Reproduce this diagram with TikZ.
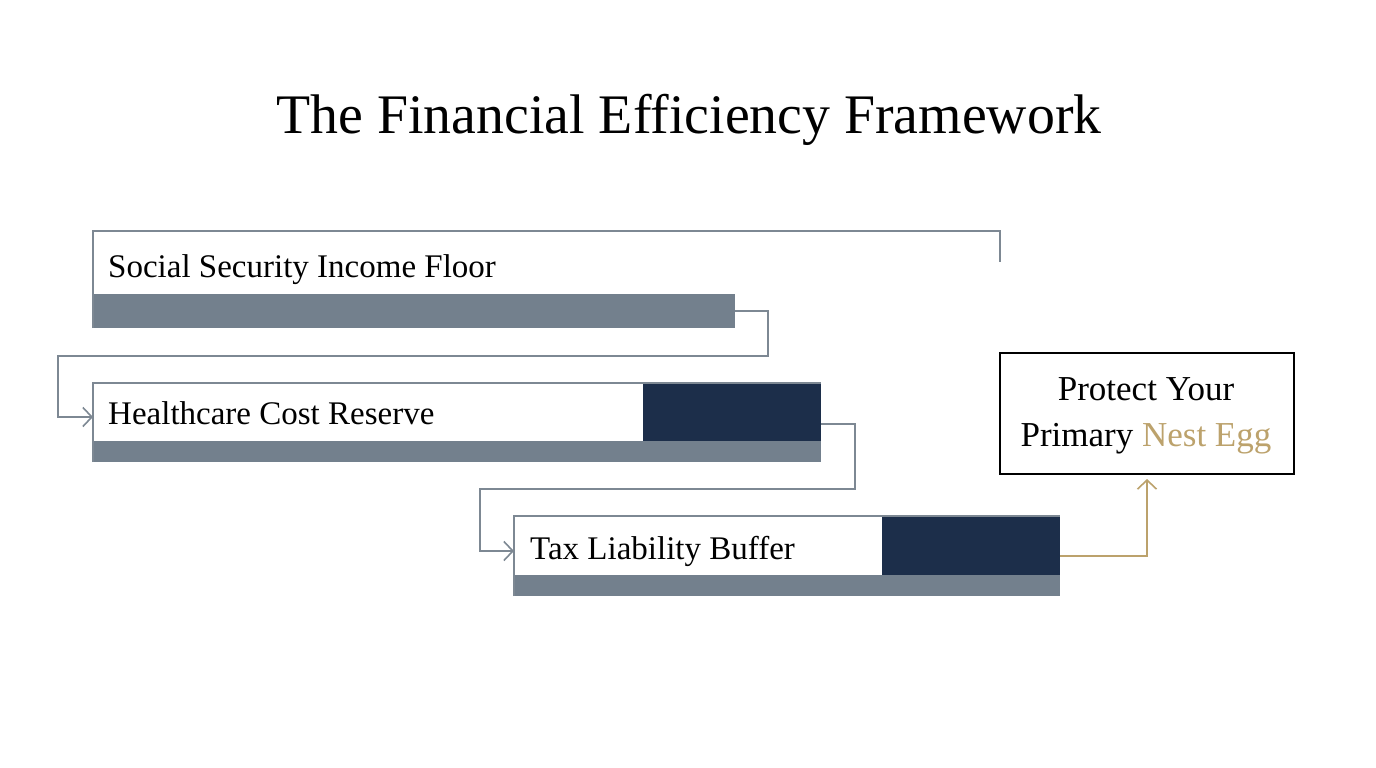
\documentclass[tikz,border=0pt]{standalone}
\usepackage{fontspec}
\setmainfont{Liberation Serif}
\usetikzlibrary{arrows.meta}
\definecolor{slate}{HTML}{73808D}
\definecolor{lineg}{HTML}{7D8893}
\definecolor{navy}{HTML}{1C2E4A}
\definecolor{gold}{HTML}{BCA26C}
\begin{document}
\begin{tikzpicture}[x=1pt,y=-1pt,
  blk/.style={inner sep=0pt,outer sep=0pt,anchor=north west,draw=none},
  lbl/.style={inner sep=0pt,anchor=base west,font=\fontsize{33}{38}\selectfont},
  outl/.style={draw=lineg,line width=2pt},
  conn/.style={draw=lineg,line width=1.8pt,-{Straight Barb[length=9pt,width=19pt,line width=1.6pt]}},
  goldconn/.style={draw=gold,line width=1.8pt,-{Straight Barb[length=9pt,width=19pt,line width=1.6pt]}}]
\useasboundingbox (0,0) rectangle (1376,768);
\fill[white] (0,0) rectangle (1376,768);

% title
\node[inner sep=0pt,anchor=base,font=\fontsize{55.8}{66}\selectfont] (title) at (689,133) {The Financial Efficiency Framework};

% bar 1
\node[blk,fill=slate,minimum width=642pt,minimum height=34pt] (g1) at (93,294) {};
\draw[outl] (93,328) -- (93,231) -- (1000,231) -- (1000,262);
\node[lbl] (t1) at (108,277) {Social Security Income Floor};

% bar 2
\node[blk,fill=slate,minimum width=728pt,minimum height=21pt] (g2) at (93,441) {};
\node[blk,fill=navy,minimum width=178pt,minimum height=58pt] (n2) at (643,383) {};
\draw[outl] (93,462) -- (93,383) -- (821,383);
\node[lbl] (t2) at (108,424) {Healthcare Cost Reserve};

% bar 3
\node[blk,fill=slate,minimum width=546pt,minimum height=21pt] (g3) at (514,575) {};
\node[blk,fill=navy,minimum width=178pt,minimum height=59pt] (n3) at (882,516) {};
\draw[outl] (514,596) -- (514,516) -- (1060,516);
\node[lbl] (t3) at (530,559) {Tax Liability Buffer};

% result box
\node[draw=black,line width=2pt,minimum width=294pt,minimum height=121pt,inner sep=0pt,anchor=north west] (res) at (999,352) {};
\node[inner sep=0pt,anchor=base,font=\fontsize{35}{40}\selectfont] (r1) at (1146,400) {Protect Your};
\node[inner sep=0pt,anchor=base,font=\fontsize{35}{40}\selectfont] (r2) at (1146,446) {Primary \textcolor{gold}{Nest Egg}};

% connectors
\draw[conn] (g1.east) -- ++(33,0) |- (58,356) |- (g2.north west |- 0,417);
\draw[conn] (n2.east |- 0,424) -- (855,424) |- (480,489) |- (514,551);
\draw[goldconn] (n3.east |- 0,556) -| ([yshift=-4pt]res.south);
\end{tikzpicture}
\end{document}
